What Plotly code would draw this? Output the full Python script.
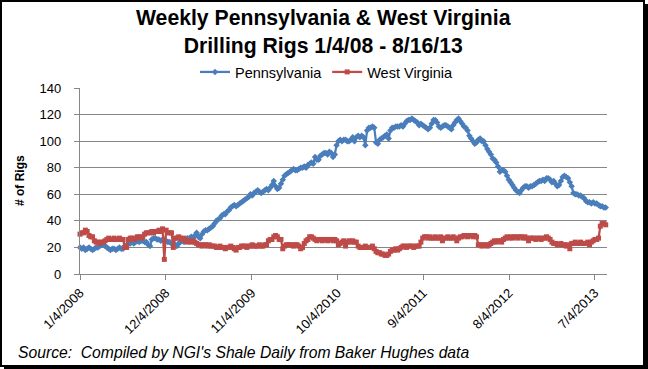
import pandas as pd
import plotly.graph_objects as go

# ---------------- data (weekly, 1/4/2008 .. 8/16/2013) ----------------
start_date = "2008-01-04"

pennsylvania = [
    20, 19, 20, 18, 19, 20, 19, 18, 19, 20, 20,
    21, 22, 22, 21, 20,
    19, 18, 19, 19, 18, 19, 20, 19, 19,
    21, 22, 23, 23, 24, 23,
    24, 25, 24, 25, 25, 24, 24,
    22, 21,
    26, 27, 27, 26,
    26, 25, 26, 26, 25,
    24, 24,
    23, 22, 22, 21,
    23, 24, 25, 24,
    26, 27, 27, 28, 27,
    29, 31,
    28, 27,
    30, 32, 33, 33, 34,
    35, 36, 38, 40, 41,
    42, 44, 45, 45,
    47, 48, 50, 51, 52, 51, 52,
    53, 54, 55, 56, 57,
    58, 60, 59, 61,
    62, 63, 62, 61,
    62, 63, 64, 63, 65,
    67, 70,
    66, 64, 65,
    68, 71, 74,
    75, 76,
    77, 78, 79, 78, 78,
    79, 80, 80, 81, 80,
    82, 83, 84, 83,
    88, 86, 86,
    89, 90, 91, 91, 90,
    92, 91, 88,
    90, 97,
    100, 101, 100, 101, 101,
    100, 100, 101,
    103, 100, 103, 104, 103, 104, 103, 97,
    108, 110, 110, 111, 110,
    99, 98,
    101, 102, 103, 104,
    105, 102,
    108, 110, 110, 111, 111,
    111, 112, 111, 113,
    115, 116, 116, 117, 116,
    115, 114,
    112, 113, 112, 111,
    110, 109,
    110, 113, 116,
    116, 114,
    111, 110, 111,
    112, 112,
    111, 110, 109,
    112, 114, 116, 117,
    115, 113,
    111, 110, 108,
    104, 102, 100,
    98, 99,
    101, 102, 100,
    100, 97,
    94, 92, 90,
    87, 86, 84,
    81, 77, 78,
    78, 77,
    74, 71, 69,
    67, 65, 63,
    62, 61, 63,
    65, 66, 66, 65, 66, 66,
    67, 68, 69,
    70, 70, 71, 70, 72,
    72, 71, 69,
    70, 68, 66,
    67, 70, 73,
    74, 73, 72,
    69, 66,
    61, 60, 60, 59,
    59, 58, 57,
    55, 54, 54,
    53, 54, 53, 53, 52,
    51, 51, 50, 50,
]

west_virginia = [
    30, 31, 31,
    33, 32,
    29, 28, 28,
    25, 24, 24, 23, 24, 24,
    25,
    26, 27, 26, 26, 27, 26, 26, 27, 26, 26,
    20, 20,
    26, 27, 27, 26, 27,
    28, 28, 27, 28,
    30, 31, 31, 31,
    32, 31, 32, 32, 33, 32,
    34, 11, 33, 31, 31, 31, 20,
    27, 27, 28, 27, 26, 27,
    25, 24, 25, 24, 25,
    24, 23, 22, 22, 21, 22, 22, 21, 22, 21, 21,
    21, 20, 20, 21, 20, 20, 19, 20, 20, 21, 20, 19,
    18, 20,
    20, 21, 21, 21, 20,
    21, 21, 22, 21, 21, 21, 22, 21, 21, 22, 22,
    25, 26, 26,
    28, 29, 28,
    26, 26,
    19, 21,
    22, 22, 22, 22, 21, 22, 22,
    21, 19,
    20, 23,
    25, 26,
    28, 28, 27,
    26, 25, 26, 26, 25, 26, 26, 25, 26, 26, 25, 26, 25,
    22, 23,
    24, 25, 21, 24, 25,
    24, 25, 24, 24,
    21, 20, 20, 20, 21, 20, 20, 20, 21,
    19, 17, 16, 16,
    15, 15, 14, 14, 15,
    17, 18, 18, 19, 18, 19,
    20, 21, 21, 20, 21, 21, 21, 20, 21, 21, 21,
    24, 27,
    28, 28, 27, 28, 27, 27, 28, 27, 27, 28,
    25,
    27, 27, 28, 27, 27, 28, 27,
    25,
    27, 28,
    28, 29, 29, 28, 29, 29, 28, 29, 28,
    22, 22, 21, 22, 22, 21, 22,
    23, 24, 25, 24, 25, 25, 24,
    26, 27, 28, 27, 28, 27, 28, 28, 27, 28, 28, 27, 28, 27, 25,
    27, 27, 27, 26, 27, 27, 26, 27, 27, 28, 27, 26,
    24, 23, 23, 22, 22, 23, 22, 22, 21, 22,
    19,
    23, 23, 24, 23, 23, 24, 23, 23, 23, 24, 22,
    24, 25, 26, 26, 27,
    36, 38, 38, 37,
]

tick_dates = ["2008-01-04", "2008-12-04", "2009-11-04", "2010-10-04",
              "2011-09-04", "2012-08-04", "2013-07-04"]
tick_labels = ["1/4/2008", "12/4/2008", "11/4/2009", "10/4/2010",
               "9/4/2011", "8/4/2012", "7/4/2013"]

series_names = ["Pennsylvania", "West Virginia"]

dates_pa = pd.date_range(start_date, periods=len(pennsylvania), freq="7D")
dates_wv = pd.date_range(start_date, periods=len(west_virginia), freq="7D")

# ---------------- layout geometry ----------------
W, H = 648, 369
ML, MR, MT, MB = 80, 41, 88, 95
PW, PH = W - ML - MR, H - MT - MB


def px_x(x):
    return (x - ML) / PW


def px_y(y):
    return (H - MB - y) / PH


FONT = "Arial, 'Liberation Sans', sans-serif"
GRID = "#878787"
BLUE = "#4A7EBB"
RED = "#BE4B48"

fig = go.Figure()
fig.add_trace(go.Scatter(
    x=dates_pa, y=pennsylvania, name=series_names[0], mode="lines+markers",
    line=dict(color=BLUE, width=2.25),
    marker=dict(symbol="diamond", size=5, color=BLUE),
    cliponaxis=False,
))
fig.add_trace(go.Scatter(
    x=dates_wv, y=west_virginia, name=series_names[1], mode="lines+markers",
    line=dict(color=RED, width=2.25),
    marker=dict(symbol="square", size=5, color=RED),
    cliponaxis=False,
))

fig.update_layout(
    width=W, height=H,
    margin=dict(l=ML, r=MR, t=MT, b=MB, pad=0),
    paper_bgcolor="white", plot_bgcolor="white",
    font=dict(family=FONT, size=13, color="black"),
    showlegend=True,
    legend=dict(orientation="h", x=px_x(327), xanchor="center",
                y=px_y(72), yanchor="middle",
                font=dict(size=14.5, color="black"),
                itemwidth=30, tracegroupgap=0, bgcolor="rgba(0,0,0,0)"),
    xaxis=dict(
        type="date", range=["2008-01-04", "2013-08-21"],
        tickmode="array", tickvals=tick_dates, ticktext=tick_labels,
        tickangle=-45, tickfont=dict(size=13, color="black"),
        showgrid=False, zeroline=False,
        showline=True, linecolor=GRID, linewidth=1.3,
        ticks="outside", ticklen=5, tickcolor=GRID, tickwidth=1.3,
    ),
    yaxis=dict(
        range=[0, 140], tickmode="linear", tick0=0, dtick=20,
        tickfont=dict(size=13, color="black"),
        showgrid=True, gridcolor=GRID, gridwidth=1.3, zeroline=False,
        showline=True, linecolor=GRID, linewidth=1.3,
        ticks="outside", ticklen=5, tickcolor=GRID, tickwidth=1.3,
        ticklabelstandoff=10,
    ),
)

fig.add_annotation(
    text="<b>Weekly Pennsylvania &amp; West Virginia<br>Drilling Rigs 1/4/08 - 8/16/13</b>",
    xref="paper", yref="paper", x=px_x(323), y=px_y(32),
    xanchor="center", yanchor="middle", showarrow=False,
    font=dict(size=21.2, family=FONT, color="black"),
)
fig.add_annotation(
    text="<b># of Rigs</b>", textangle=-90,
    xref="paper", yref="paper", x=px_x(20), y=px_y(181),
    xanchor="center", yanchor="middle", showarrow=False,
    font=dict(size=12, family=FONT, color="black"),
)
fig.add_annotation(
    text="<i>Source:  Compiled by NGI's Shale Daily from Baker Hughes data</i>",
    xref="paper", yref="paper", x=px_x(16), y=px_y(352),
    xanchor="left", yanchor="middle", showarrow=False,
    font=dict(size=15.7, family=FONT, color="black"),
)

# outer frame
fig.add_shape(type="rect", xref="paper", yref="paper",
              x0=px_x(1), x1=px_x(644), y0=px_y(1), y1=px_y(366),
              line=dict(color="black", width=2), layer="above")
fig.add_shape(type="rect", xref="paper", yref="paper",
              x0=px_x(643), x1=px_x(648), y0=px_y(4), y1=px_y(369),
              line=dict(width=0), fillcolor="black", layer="above")
fig.add_shape(type="rect", xref="paper", yref="paper",
              x0=px_x(4), x1=px_x(648), y0=px_y(365), y1=px_y(369),
              line=dict(width=0), fillcolor="black", layer="above")

# place the figure at the top-left corner of the page (no default body margin)
fig.write_html("out.html", config={"displayModeBar": False},
               post_script="document.body.style.margin='0px';")
